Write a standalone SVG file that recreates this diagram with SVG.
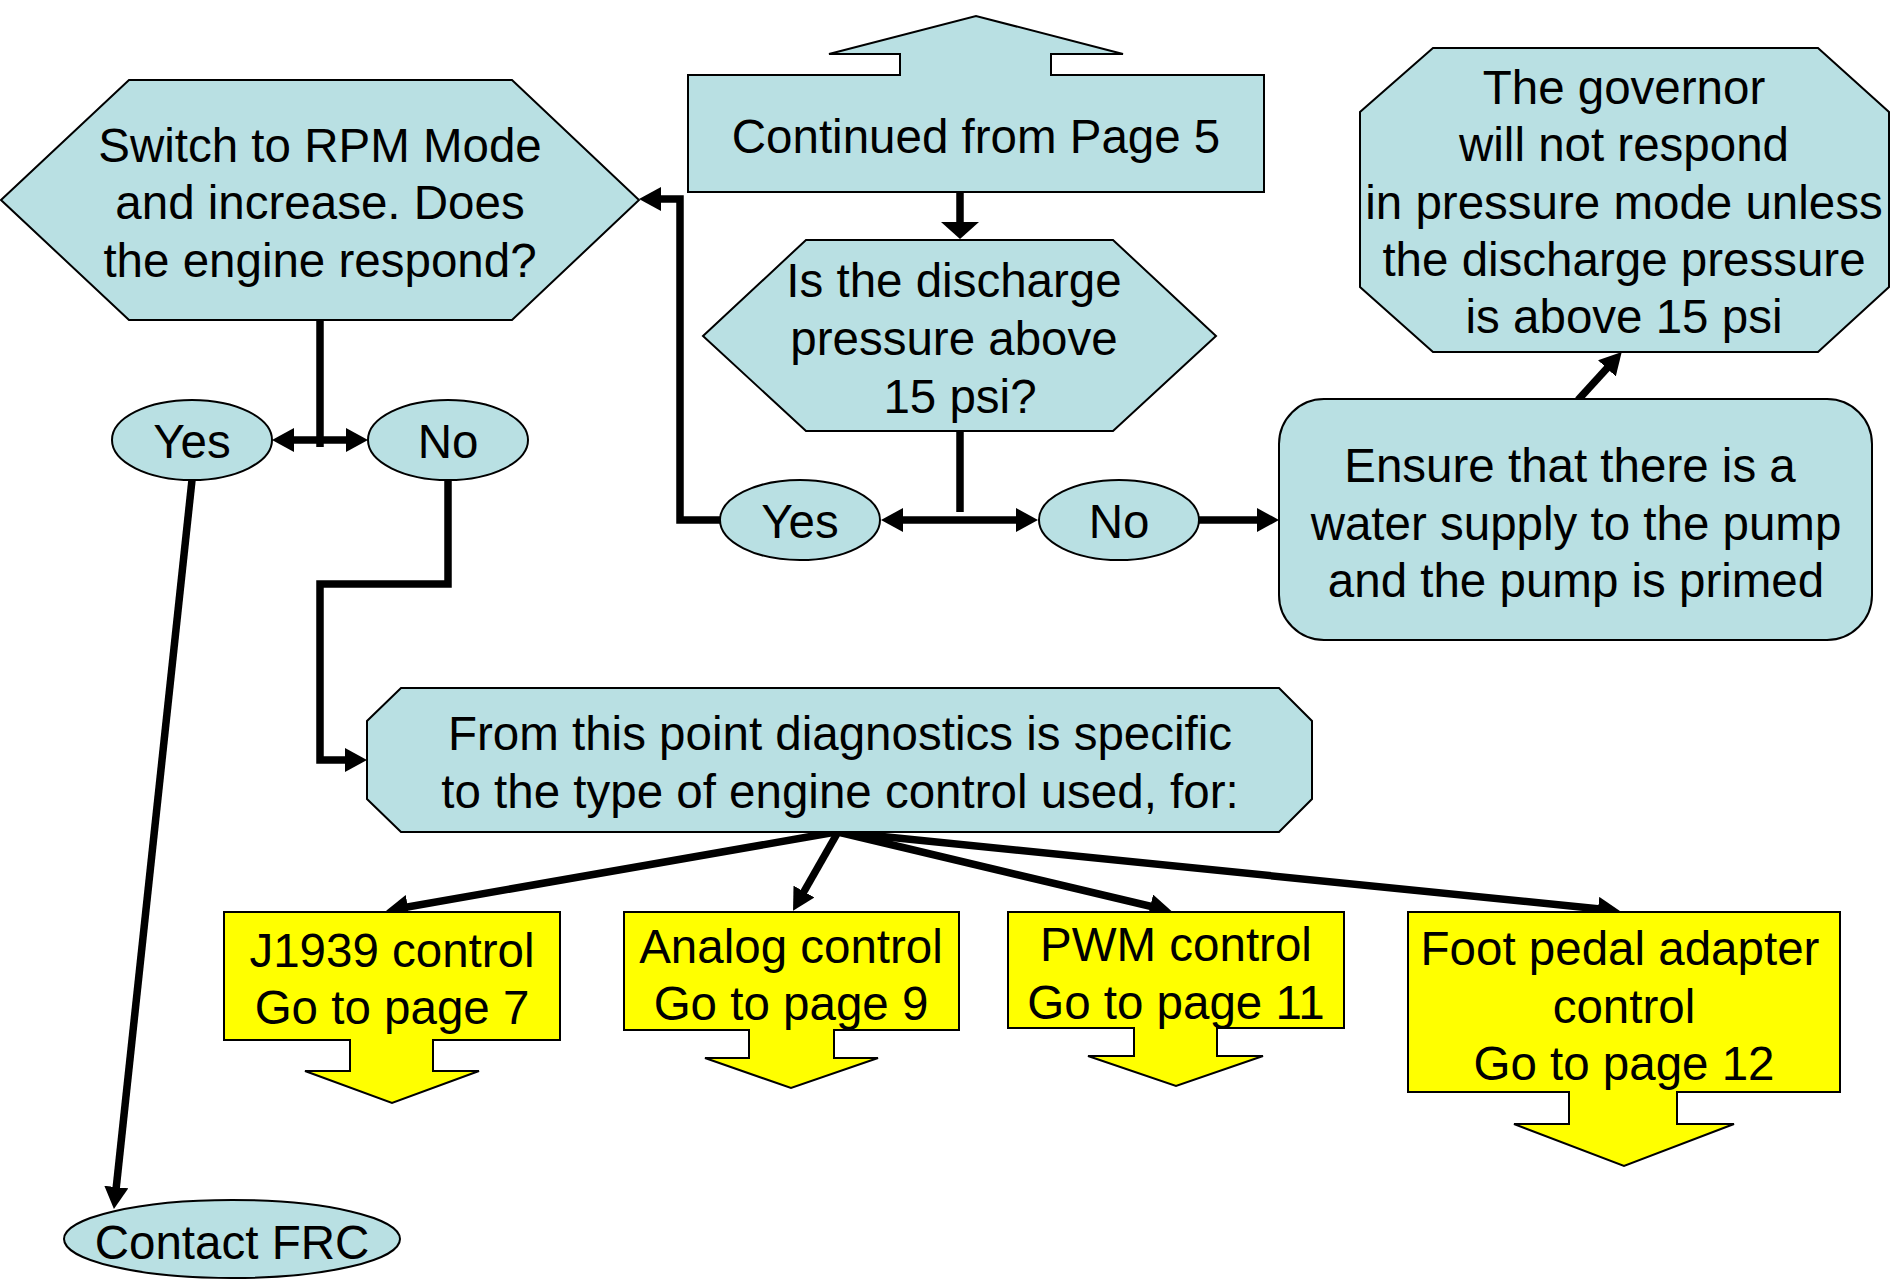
<svg xmlns="http://www.w3.org/2000/svg" width="1892" height="1281" viewBox="0 0 1892 1281">
  <defs>
    <style>
      .blue { fill: #B9E0E3; stroke: #000; stroke-width: 2; }
      .yellow { fill: #FFFF00; stroke: #000; stroke-width: 2; }
      .lbl { font-family: "Liberation Sans", Arial, sans-serif; font-size: 47.5px; fill: #000; text-anchor: middle; }
      .wire { fill: none; stroke: #000; stroke-width: 7.5; stroke-linejoin: miter; }
      .arr { marker-end: url(#ah); }
      .both { marker-start: url(#ah); marker-end: url(#ah); }
    </style>
    <!-- standard arrowhead; line ends 10px short of the tip -->
    <marker id="ah" viewBox="0 0 22 24" refX="12" refY="12" markerWidth="22" markerHeight="24" markerUnits="userSpaceOnUse" orient="auto-start-reverse">
      <path d="M0,0 L22,12 L0,24 Z" fill="#000"/>
    </marker>
    <!-- short, wide arrowhead -->
    <marker id="ahw" viewBox="0 0 17 38" refX="9" refY="19" markerWidth="17" markerHeight="38" markerUnits="userSpaceOnUse" orient="auto">
      <path d="M0,0 L17,19 L0,38 Z" fill="#000"/>
    </marker>
  </defs>

  <rect width="1892" height="1281" fill="#fff"/>

  <!-- connectors -->
  <g id="connectors">
    <path class="wire" d="M960,192 V231" marker-end="url(#ahw)"/>
    <path class="wire" d="M960,431 V512"/>
    <path class="wire both" d="M891,520 H1028"/>
    <path class="wire arr" d="M1199,520 H1269"/>
    <path class="wire arr" d="M720,520 H680 V199 H649"/>
    <path class="wire arr" d="M1578,400 L1615,359.5"/>
    <path class="wire" d="M320,320 V447"/>
    <path class="wire both" d="M282,440 H358"/>
    <path class="wire arr" d="M448,480 V584 H320 V760 H357"/>
    <path class="wire arr" d="M192,480 L115,1199"/>
    <path class="wire arr" d="M836,832 L396,909"/>
    <path class="wire arr" d="M838,832 L798,902"/>
    <path class="wire arr" d="M838,832 L1162,909"/>
    <path class="wire arr" d="M838,832 L1610,910"/>
  </g>

  <!-- decision: RPM mode -->
  <g id="rpm-mode">
    <polygon class="blue" points="1,200 129,80 512,80 639,200 512,320 129,320"/>
    <text class="lbl" x="320" y="162">Switch to RPM Mode</text>
    <text class="lbl" x="320" y="219">and increase. Does</text>
    <text class="lbl" x="320" y="277">the engine respond?</text>
  </g>

  <!-- off-page connector -->
  <g id="continued">
    <path class="blue" d="M688,75 H900 V54 H829 L976,16 L1123,54 H1051 V75 H1264 V192 H688 Z"/>
    <text class="lbl" x="976" y="153">Continued from Page 5</text>
  </g>

  <!-- decision: discharge pressure -->
  <g id="pressure-check">
    <polygon class="blue" points="703,336 806,240 1113,240 1216,336 1113,431 806,431"/>
    <text class="lbl" x="954" y="297">Is the discharge</text>
    <text class="lbl" x="954" y="355">pressure above</text>
    <text class="lbl" x="960" y="413">15 psi?</text>
  </g>

  <!-- governor note -->
  <g id="governor-note">
    <polygon class="blue" points="1433,48 1818,48 1889,112 1889,287 1818,352 1433,352 1360,287 1360,112"/>
    <text class="lbl" x="1624" y="104">The governor</text>
    <text class="lbl" x="1624" y="161">will not respond</text>
    <text class="lbl" x="1624" y="219">in pressure mode unless</text>
    <text class="lbl" x="1624" y="276">the discharge pressure</text>
    <text class="lbl" x="1624" y="333">is above 15 psi</text>
  </g>

  <!-- water supply check -->
  <g id="water-supply">
    <rect class="blue" x="1279" y="399" width="593" height="241" rx="45" ry="45"/>
    <text class="lbl" x="1570" y="482">Ensure that there is a</text>
    <text class="lbl" x="1576" y="540">water supply to the pump</text>
    <text class="lbl" x="1576" y="597">and the pump is primed</text>
  </g>

  <!-- answers -->
  <g id="yes-rpm">
    <ellipse class="blue" cx="192" cy="440" rx="80" ry="40"/>
    <text class="lbl" x="192" y="458">Yes</text>
  </g>
  <g id="no-rpm">
    <ellipse class="blue" cx="448" cy="440" rx="80" ry="40"/>
    <text class="lbl" x="448" y="458">No</text>
  </g>
  <g id="yes-pressure">
    <ellipse class="blue" cx="800" cy="520" rx="80" ry="40"/>
    <text class="lbl" x="800" y="538">Yes</text>
  </g>
  <g id="no-pressure">
    <ellipse class="blue" cx="1119" cy="520" rx="80" ry="40"/>
    <text class="lbl" x="1119" y="538">No</text>
  </g>

  <!-- engine control type -->
  <g id="control-type">
    <polygon class="blue" points="401,688 1279,688 1312,721 1312,799 1279,832 401,832 367,799 367,721"/>
    <text class="lbl" x="840" y="750">From this point diagnostics is specific</text>
    <text class="lbl" x="840" y="808">to the type of engine control used, for:</text>
  </g>

  <!-- page links -->
  <g id="j1939">
    <path class="yellow" d="M224,912 H560 V1040 H433 V1071 H479 L392,1103 L305,1071 H350 V1040 H224 Z"/>
    <text class="lbl" x="392" y="967">J1939 control</text>
    <text class="lbl" x="392" y="1024">Go to page 7</text>
  </g>
  <g id="analog">
    <path class="yellow" d="M624,912 H959 V1030 H834 V1058 H878 L791,1088 L705,1058 H749 V1030 H624 Z"/>
    <text class="lbl" x="791" y="963">Analog control</text>
    <text class="lbl" x="791" y="1020">Go to page 9</text>
  </g>
  <g id="pwm">
    <path class="yellow" d="M1008,912 H1344 V1028 H1217 V1056 H1263 L1176,1086 L1088,1056 H1134 V1028 H1008 Z"/>
    <text class="lbl" x="1176" y="961">PWM control</text>
    <text class="lbl" x="1176" y="1019">Go to page 11</text>
  </g>
  <g id="foot-pedal">
    <path class="yellow" d="M1408,912 H1840 V1092 H1677 V1124 H1734 L1624,1166 L1514,1124 H1569 V1092 H1408 Z"/>
    <text class="lbl" x="1620" y="965">Foot pedal adapter</text>
    <text class="lbl" x="1624" y="1023">control</text>
    <text class="lbl" x="1624" y="1080">Go to page 12</text>
  </g>

  <!-- terminal -->
  <g id="contact-frc">
    <ellipse class="blue" cx="232" cy="1239" rx="168" ry="39"/>
    <text class="lbl" x="232" y="1259">Contact FRC</text>
  </g>
</svg>
